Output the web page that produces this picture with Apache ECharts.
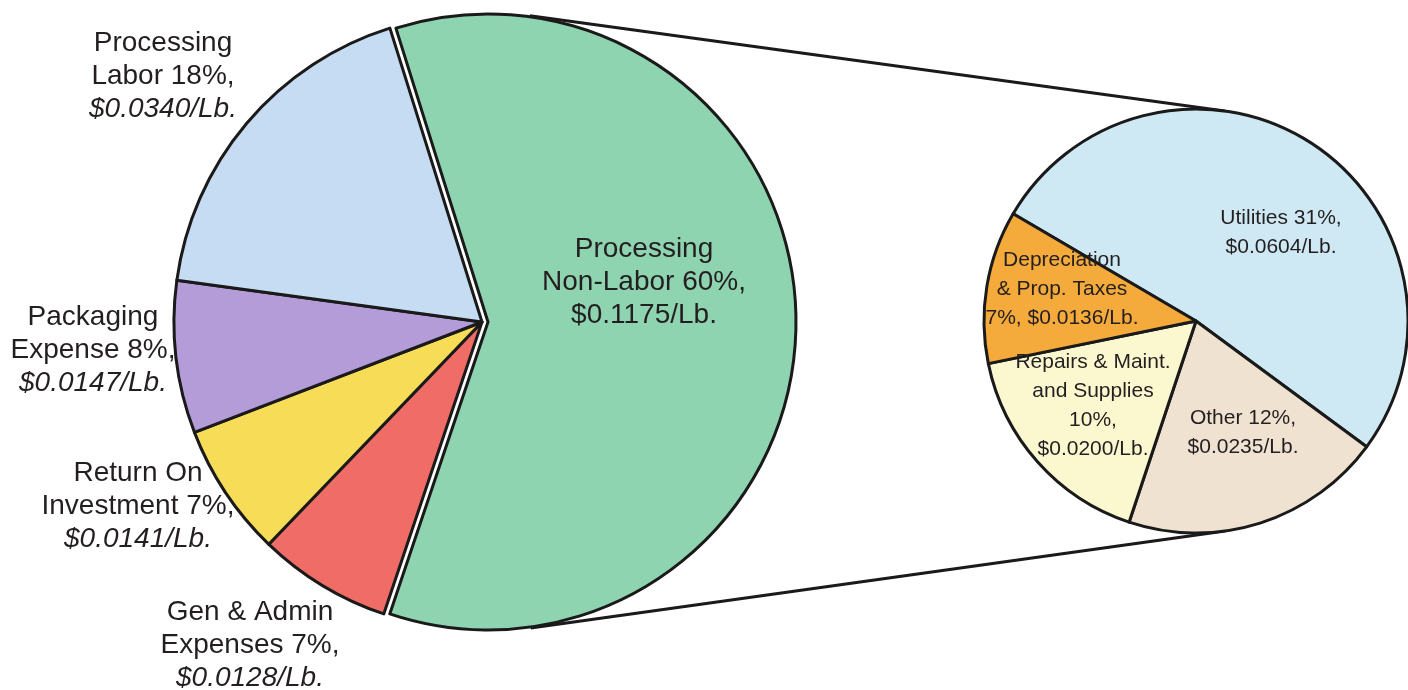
<!DOCTYPE html>
<html>
<head>
<meta charset="utf-8">
<script src="https://cdn.jsdelivr.net/npm/echarts@6/dist/echarts.min.js"></script>
<style>
  html, body { margin: 0; padding: 0; background: #fff; }
  #chart { width: 1408px; height: 690px; }
</style>
</head>
<body>
<div id="chart"></div>
<script>
  // 总成本构成（左饼）
  var leftNames = ['Processing\nNon-Labor', 'Gen & Admin\nExpenses', 'Return On\nInvestment', 'Packaging\nExpense', 'Processing\nLabor'];
  var leftPct = [60, 7, 7, 8, 18];
  var leftCost = ['$0.1175/Lb.', '$0.0128/Lb.', '$0.0141/Lb.', '$0.0147/Lb.', '$0.0340/Lb.'];

  // Non-Labor 细分（右饼）
  var rightNames = ['Utilities', 'Other', 'Repairs & Maint.\nand Supplies', 'Depreciation\n& Prop. Taxes'];
  var rightPct = [31, 12, 10, 7];
  var rightCost = ['$0.0604/Lb.', '$0.0235/Lb.', '$0.0200/Lb.', '$0.0136/Lb.'];

  // styles / layout
  var leftColors = ['#8fd4b1', '#f06c66', '#f7dc57', '#b49cd9', '#c6dcf2'];
  var rightColors = ['#cfe9f4', '#f0e2d0', '#fbf7cf', '#f5aa3c'];
  var leftLabelPos = [[644, 282], [250, 645], [138, 506], [93, 350], [163, 76]];
  var rightLabelPos = [[1281, 233], [1243, 433], [1093, 406], [1062, 289]];
  var rightBreaks = [[' ', '\n'], [' ', '\n'], ['\n', '\n'], ['\n', ' ']];

  var L = { cx: 482, cy: 322, r: 308, off: 6 };
  var R = { cx: 1196, cy: 321, r: 212 };
  var FONT = 'Liberation Sans, Arial, sans-serif';
  var INK = '#231f20';
  var EDGE = '#1a1a1a';
  var HIDE = { color: 'rgba(0,0,0,0)', borderWidth: 0 };

  var chart = echarts.init(document.getElementById('chart'), null, { renderer: 'canvas' });

  // 两个饼之间的外公切线
  function tangents() {
    var ax = L.cx + L.off, ay = L.cy, ar = L.r + 1;
    var dx = R.cx - ax, dy = R.cy - ay;
    var d = Math.sqrt(dx * dx + dy * dy);
    var base = Math.atan2(dy, dx);
    var a = Math.asin((ar - R.r) / d);
    var lines = [];
    [-1, 1].forEach(function (s) {
      var ang = base + s * (Math.PI / 2 + a);
      var nx = Math.cos(ang), ny = Math.sin(ang);
      lines.push({
        type: 'line', z: 0,
        shape: { x1: ax - ar * nx, y1: ay - ar * ny, x2: R.cx - R.r * nx, y2: R.cy - R.r * ny },
        style: { stroke: EDGE, lineWidth: 3 }
      });
    });
    return lines;
  }

  function leftLabel(p) {
    var i = p.dataIndex;
    var lines = leftNames[i].split('\n');
    lines[lines.length - 1] += ' ' + leftPct[i] + '%,';
    var s = lines.map(function (t) { return '{a|' + t + '}'; }).join('\n');
    return s + '\n' + (i === 0 ? '{a|' : '{i|') + leftCost[i] + '}';
  }

  // 左饼分两层：other slices / exploded Non-Labor slice
  function leftData(explodedLayer) {
    return leftNames.map(function (n, i) {
      var mine = explodedLayer ? i === 0 : i !== 0;
      return {
        name: n,
        value: leftPct[i],
        itemStyle: mine ? { color: leftColors[i] } : HIDE,
        label: { show: mine }
      };
    });
  }

  var leftLabelOpt = {
    show: true,
    position: 'inside',
    color: INK,
    fontFamily: FONT,
    fontSize: 28,
    lineHeight: 33,
    align: 'center',
    formatter: leftLabel,
    rich: {
      a: { fontSize: 28, lineHeight: 33, color: INK, fontFamily: FONT },
      i: { fontSize: 28, lineHeight: 33, color: INK, fontStyle: 'italic', fontFamily: FONT }
    }
  };
  function leftLayout(p) {
    var q = leftLabelPos[p.dataIndex];
    return { x: q[0], y: q[1], align: 'center', verticalAlign: 'middle' };
  }

  var option = {
    backgroundColor: '#fff',
    animation: false,
    graphic: tangents(),
    series: [{
      type: 'pie',
      center: [L.cx, L.cy],
      radius: L.r,
      startAngle: 107.4,
      clockwise: true,
      avoidLabelOverlap: false,
      emphasis: { disabled: true },
      itemStyle: { borderColor: EDGE, borderWidth: 3 },
      labelLine: { show: false },
      label: leftLabelOpt,
      labelLayout: leftLayout,
      data: leftData(false)
    }, {
      type: 'pie',
      center: [L.cx + L.off, L.cy],
      radius: L.r,
      startAngle: 107.4,
      clockwise: true,
      avoidLabelOverlap: false,
      emphasis: { disabled: true },
      itemStyle: { borderColor: EDGE, borderWidth: 3 },
      labelLine: { show: false },
      label: leftLabelOpt,
      labelLayout: leftLayout,
      data: leftData(true)
    }, {
      type: 'pie',
      center: [R.cx, R.cy],
      radius: R.r,
      startAngle: 149.6,
      clockwise: true,
      avoidLabelOverlap: false,
      emphasis: { disabled: true },
      itemStyle: { borderColor: EDGE, borderWidth: 3 },
      labelLine: { show: false },
      label: {
        show: true,
        position: 'inside',
        color: INK,
        fontFamily: FONT,
        fontSize: 21,
        lineHeight: 29,
        align: 'center',
        formatter: function (p) {
          var i = p.dataIndex;
          var b = rightBreaks[i];
          return rightNames[i] + b[0] + rightPct[i] + '%,' + b[1] + rightCost[i];
        }
      },
      labelLayout: function (p) {
        var q = rightLabelPos[p.dataIndex];
        return { x: q[0], y: q[1], align: 'center', verticalAlign: 'middle' };
      },
      data: rightNames.map(function (n, i) {
        return { name: n, value: rightPct[i], itemStyle: { color: rightColors[i] } };
      })
    }]
  };

  chart.setOption(option);
</script>
</body>
</html>
